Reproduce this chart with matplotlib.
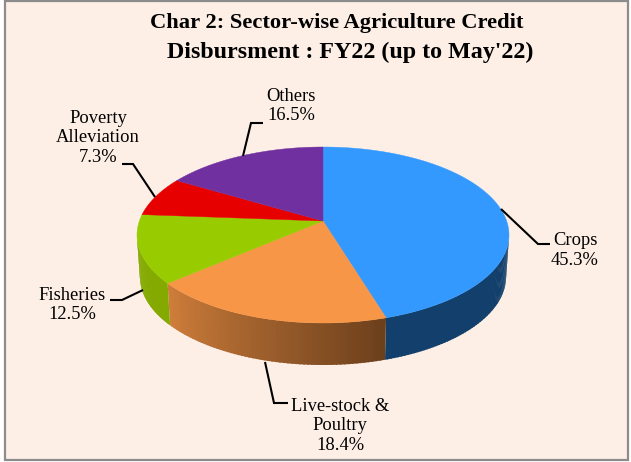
import numpy as np
import matplotlib
matplotlib.use("Agg")
import matplotlib.pyplot as plt
from matplotlib.patches import Rectangle
from matplotlib.colors import to_rgb

plt.rcParams["font.family"] = ["Liberation Serif", "DejaVu Serif"]

title_lines = ["Char 2: Sector-wise Agriculture Credit", "Disbursment : FY22 (up to May'22)"]
categories = ["Crops", "Live-stock &\nPoultry", "Fisheries", "Poverty\nAlleviation", "Others"]
shares = [45.3, 18.4, 12.5, 7.3, 16.5]
colors = ["#3399FF", "#F79646", "#99CC00", "#E60000", "#7030A0"]
side_colors = ["#123F6B", "#6B3F1C", "#84AA00", "#A00000", "#4A2070"]

# pixel geometry of the pie
W, H = 631, 462
cx, cy, rx, ry = 323, 235, 186, 88  # rim of the top face
apex_y = 221  # centre point sits above the ellipse centre (perspective)
low_cy, low_rx, low_ry = 277, 183, 88  # rim of the bottom face

fig = plt.figure(figsize=(W / 100, H / 100), dpi=100)
ax = fig.add_axes([0, 0, 1, 1])
ax.set_xlim(0, W)
ax.set_ylim(H, 0)
ax.axis("off")
ax.add_patch(Rectangle((5, 1), W - 8, H - 3, fc="#FDEFE6", ec="#8C8C8C", lw=1.6))

fracs = np.array(shares) / sum(shares)
edges = np.concatenate([[0], np.cumsum(fracs)]) * 2 * np.pi

# tilt of the circle, gives the apex offset
k = (cy - apex_y) / ry


def rim_angle(a):
    # true pie angle -> angle on the drawn ellipse
    u, v = np.sin(a), np.cos(a)
    w = 1 + k * v
    px = u / w * np.sqrt(1 - k**2)
    py = v / w * (1 - k**2) + k
    return np.arctan2(px, py) % (2 * np.pi)


draw_edges = [rim_angle(e) for e in edges[:-1]] + [2 * np.pi]

# side wall, shaded strip by strip
for i in range(len(shares)):
    lo, hi = draw_edges[i], draw_edges[i + 1]
    lo_v, hi_v = max(lo, np.pi / 2), min(hi, 3 * np.pi / 2)
    if hi_v <= lo_v:
        continue
    steps = np.linspace(lo_v, hi_v, 61)
    dark = np.array(to_rgb(side_colors[i]))
    light = np.array(to_rgb(colors[i])) * 0.84
    for a0, a1 in zip(steps[:-1], steps[1:]):
        t = (0.5 * (a0 + a1) - lo_v) / (hi_v - lo_v)
        c = dark + (light - dark) * t if i == 1 else dark
        # overlap a little so the strips leave no seams
        a2 = min(a1 + 0.01, hi_v)
        xs = [cx + rx * np.sin(a0), cx + rx * np.sin(a2), cx + low_rx * np.sin(a2), cx + low_rx * np.sin(a0)]
        ys = [cy - ry * np.cos(a0), cy - ry * np.cos(a2), low_cy - low_ry * np.cos(a2), low_cy - low_ry * np.cos(a0)]
        ax.fill(xs, ys, color=c, lw=0)

# top face
for i in range(len(shares)):
    angs = np.linspace(draw_edges[i], draw_edges[i + 1], 120)
    xs = cx + rx * np.sin(angs)
    ys = cy - ry * np.cos(angs)
    ax.fill(np.r_[cx, xs], np.r_[apex_y, ys], color=colors[i], lw=0.3)

# leader lines
leaders = [
    [(501, 209), (538, 244), (550, 244)],
    [(265, 362), (274, 403), (288, 403)],
    [(143, 290), (122, 300), (110, 300)],
    [(155, 197), (133, 164), (122, 164)],
    [(243, 156), (251, 123), (263, 123)],
]
for line in leaders:
    ax.plot(*zip(*line), color="black", lw=1.5, solid_capstyle="butt", solid_joinstyle="miter")

label_pos = [(575, 250.5), (340, 426), (72, 305), (98, 138), (291, 106)]
for (x, y), name, share in zip(label_pos, categories, shares):
    ax.text(x, y, f"{name}\n{share}%", ha="center", va="center", fontsize=13.3, color="black", linespacing=1.19)

ax.text(337, 23, title_lines[0], ha="center", va="center", fontsize=16.2, fontweight="bold")
ax.text(350, 52, title_lines[1], ha="center", va="center", fontsize=17.3, fontweight="bold")

fig.savefig("out.png", dpi=100)
